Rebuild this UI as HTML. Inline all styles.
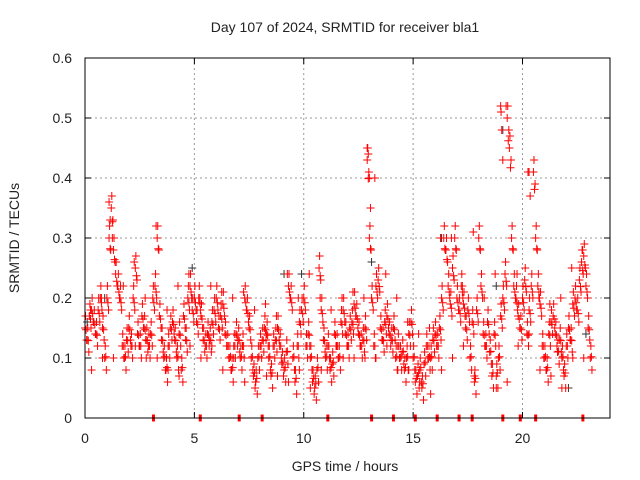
<!DOCTYPE html>
<html><head><meta charset="utf-8"><style>
body{margin:0;background:#fff;}
svg{display:block;font-family:"Liberation Sans",sans-serif;}
</style></head><body>
<svg id="chart" width="640" height="480" viewBox="0 0 640 480">
<text x="345" y="32" font-size="14" text-anchor="middle" fill="#222">Day 107 of 2024, SRMTID for receiver bla1</text>
<text transform="translate(19,238) rotate(-90)" font-size="14" text-anchor="middle" fill="#222">SRMTID / TECUs</text>
<text x="345" y="471" font-size="14" text-anchor="middle" fill="#222">GPS time / hours</text>
<g id="grid"></g>
<g id="marks"></g>
<rect x="85" y="58" width="525" height="360" fill="none" stroke="#000" stroke-width="1"/>
<g id="ticks"></g>
</svg>
<script>
const xTicks=[0,5,10,15,20];
const yTicks=[0,0.1,0.2,0.3,0.4,0.5,0.6];
const yTickLabels=["0","0.1","0.2","0.3","0.4","0.5","0.6"];
// value every 0.1 h from 0
const midValues=[0.15,0.13,0.17,0.18,0.16,0.14,0.18,0.2,0.15,0.1,0.2,0.3,0.35,0.28,0.24,0.22,0.2,0.12,0.1,0.13,0.15,0.12,0.2,0.25,0.14,0.12,0.17,0.15,0.13,0.12,0.14,0.2,0.22,0.3,0.17,0.13,0.1,0.08,0.12,0.15,0.16,0.13,0.1,0.14,0.08,0.17,0.13,0.2,0.22,0.18,0.2,0.16,0.2,0.17,0.13,0.12,0.14,0.13,0.16,0.18,0.2,0.15,0.17,0.19,0.14,0.12,0.1,0.08,0.12,0.14,0.13,0.1,0.12,0.2,0.18,0.15,0.1,0.07,0.06,0.1,0.12,0.13,0.15,0.14,0.1,0.07,0.12,0.13,0.15,0.12,0.09,0.08,0.11,0.22,0.2,0.1,0.06,0.12,0.16,0.18,0.2,0.12,0.14,0.1,0.06,0.05,0.08,0.25,0.18,0.13,0.1,0.12,0.08,0.09,0.14,0.12,0.1,0.16,0.18,0.14,0.12,0.15,0.16,0.19,0.17,0.14,0.12,0.13,0.15,0.43,0.3,0.2,0.12,0.22,0.23,0.15,0.13,0.16,0.17,0.14,0.13,0.15,0.1,0.12,0.1,0.11,0.08,0.1,0.14,0.16,0.1,0.06,0.07,0.08,0.05,0.09,0.12,0.1,0.1,0.13,0.14,0.12,0.15,0.2,0.3,0.28,0.22,0.19,0.25,0.3,0.2,0.18,0.22,0.19,0.15,0.18,0.1,0.16,0.06,0.18,0.3,0.22,0.14,0.12,0.16,0.11,0.07,0.14,0.07,0.1,0.17,0.2,0.24,0.5,0.45,0.3,0.22,0.2,0.17,0.15,0.2,0.23,0.14,0.18,0.22,0.41,0.3,0.22,0.19,0.12,0.1,0.08,0.14,0.16,0.17,0.14,0.11,0.13,0.1,0.07,0.12,0.15,0.13,0.19,0.2,0.18,0.23,0.26,0.27,0.22,0.15,0.1];
// envelope every 0.5 h
const highValues=[0.18,0.2,0.3,0.22,0.26,0.2,0.32,0.18,0.22,0.24,0.2,0.22,0.21,0.2,0.21,0.18,0.19,0.17,0.24,0.2,0.24,0.2,0.18,0.2,0.21,0.2,0.4,0.24,0.2,0.16,0.14,0.15,0.3,0.3,0.22,0.31,0.2,0.24,0.52,0.24,0.41,0.2,0.19,0.2,0.25,0.28];
const lowValues=[0.08,0.1,0.1,0.1,0.12,0.1,0.1,0.08,0.07,0.12,0.1,0.12,0.08,0.1,0.06,0.06,0.07,0.07,0.06,0.08,0.05,0.08,0.09,0.1,0.1,0.1,0.1,0.12,0.08,0.08,0.06,0.04,0.08,0.1,0.12,0.07,0.12,0.05,0.06,0.12,0.14,0.08,0.07,0.05,0.1,0.1];
const spikeTimes=[1.1,1.15,12.9,12.95,13.0,13.05,19.0,19.02,19.05,19.1,20.3,20.35];
const spikeValues=[0.36,0.33,0.45,0.44,0.40,0.35,0.52,0.51,0.48,0.43,0.41,0.37];
const zeroTimes=[3.13,5.27,7.05,8.1,11.1,13.1,14.1,15.1,16.1,17.1,17.7,19.1,19.9,20.6,22.76];
const darkTimes=[0.1,0.9,4.9,9.1,9.9,13.1,16.3,18.8,19.1,22.1,22.9];
const darkValues=[0.16,0.2,0.25,0.24,0.24,0.26,0.3,0.22,0.48,0.05,0.14];

const X0=85,X1=610,Y0=418,Y1=58;
const xs=t=>X0+(t/24)*(X1-X0);
const ys=v=>Y0-(v/0.6)*(Y0-Y1);
const NS="http://www.w3.org/2000/svg";
const grid=document.getElementById('grid'),ticks=document.getElementById('ticks'),marks=document.getElementById('marks');
function line(p,x1,y1,x2,y2,st,da){const l=document.createElementNS(NS,'line');l.setAttribute('x1',x1);l.setAttribute('y1',y1);l.setAttribute('x2',x2);l.setAttribute('y2',y2);l.setAttribute('stroke',st);if(da)l.setAttribute('stroke-dasharray',da);p.appendChild(l);return l;}
function text(p,x,y,s,anchor){const t=document.createElementNS(NS,'text');t.setAttribute('x',x);t.setAttribute('y',y);t.setAttribute('font-size','14');t.setAttribute('fill','#222');t.setAttribute('text-anchor',anchor);t.textContent=s;p.appendChild(t);return t;}
xTicks.forEach(t=>{const x=xs(t);
 if(t>0){const g=line(grid,x,Y1,x,Y0,'#999','2,3');
 
 }
 line(ticks,x,Y0,x,Y0-6,'#000');line(ticks,x,Y1,x,Y1+6,'#000');
 const lb=text(ticks,x,443,String(t),'middle');
 
 });
yTicks.forEach((v,i)=>{const y=ys(v);
 if(v>0&&v<0.6){const g=line(grid,X0,y,X1,y,'#999','2,3');
 
 }
 line(ticks,X0,y,X0+6,y,'#000');line(ticks,X1,y,X1-6,y,'#000');
 const lb=text(ticks,72,y+5,yTickLabels[i],'end');
 
 });
function plus(t,v,c){const x=xs(t),y=ys(v);const p=document.createElementNS(NS,'path');
 p.setAttribute('d',`M${x-4},${y}H${x+4}M${x},${y-4}V${y+4}`);p.setAttribute('stroke',c);p.setAttribute('stroke-width','1');
 
 
 marks.appendChild(p);}
darkValues.forEach((v,i)=>plus(darkTimes[i],v,'#333'));
midValues.forEach((v,i)=>{const t=i*0.1;
 plus(t,v,'#f00');plus(t+0.05,v*0.9+0.012,'#f00');
 plus(t+0.025,v+0.02,'#f00');plus(t+0.075,Math.max(0.02,v-0.02),'#f00');});
highValues.forEach((v,i)=>plus(i*0.5+0.25,v,'#f00'));
lowValues.forEach((v,i)=>plus(i*0.5+0.3,v,'#f00'));
spikeValues.forEach((v,i)=>plus(spikeTimes[i],v,'#f00'));
zeroTimes.forEach(t=>{const x=xs(t);const r=document.createElementNS(NS,'rect');r.setAttribute('x',x-1.5);r.setAttribute('y',Y0-3.5);r.setAttribute('width',3);r.setAttribute('height',7);r.setAttribute('fill','#f00');
 
 
 marks.appendChild(r);});
</script>
</body></html>
